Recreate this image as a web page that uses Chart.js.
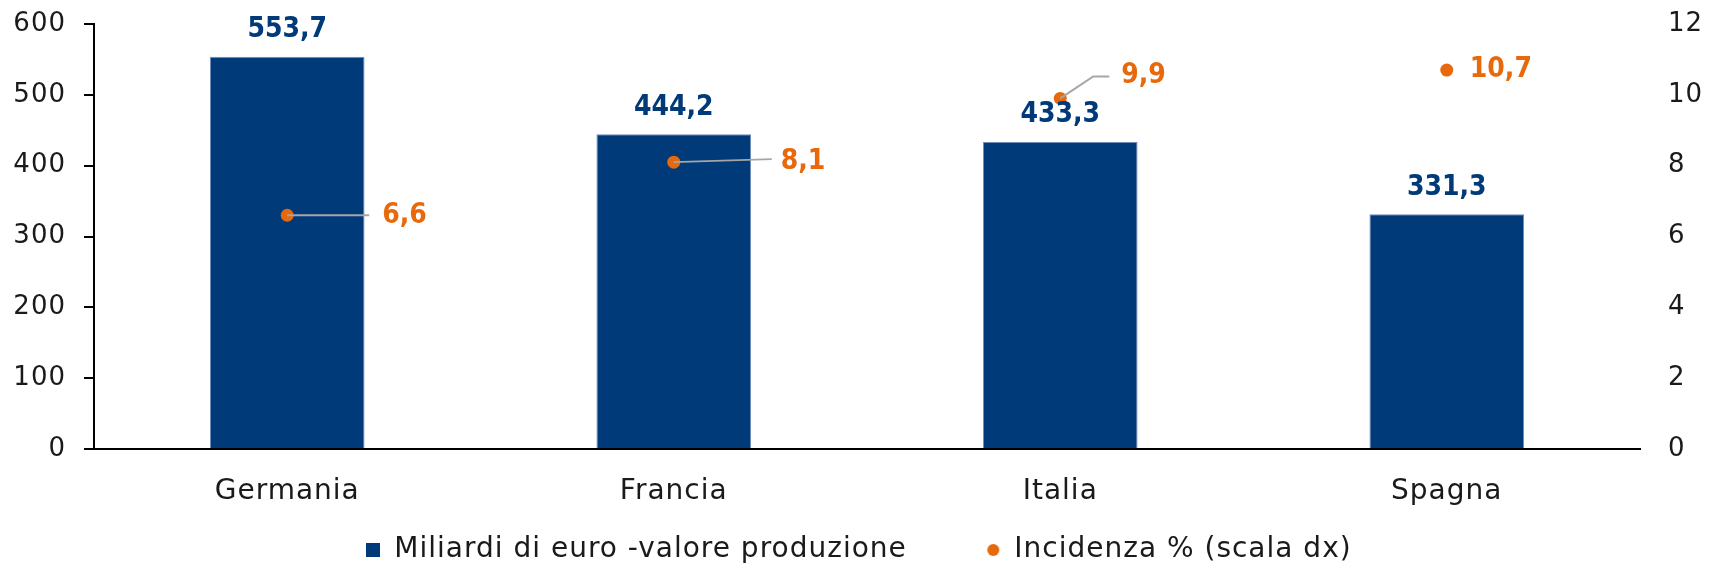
<!DOCTYPE html>
<html>
<head>
<meta charset="utf-8">
<script src="https://cdn.jsdelivr.net/npm/chart.js@4.4.0/dist/chart.umd.min.js"></script>
<style>
html, body { margin: 0; padding: 0; background: #fff; }
</style>
</head>
<body>
<canvas id="myChart1" width="1718" height="574"></canvas>
<script>
//------------------ dati ------------------//
const PAESI = ['Germania', 'Francia', 'Italia', 'Spagna']
const VALORE_PRODUZIONE = [553.7, 444.2, 433.3, 331.3]   // miliardi di euro
const INCIDENZA = [6.6, 8.1, 9.9, 10.7]                  // % (scala dx)
const LABEL_BARRE = 'Miliardi di euro -valore produzione'
const LABEL_PUNTI = 'Incidenza % (scala dx)'
//------------------------------------------//

const BLU = '#003A78'
const ARANCIO = '#E8690C'
const GRIGIO = '#A6A6A6'
const FONT = "'DejaVu Sans', sans-serif"
const FONT_BOLD = "bold 28px 'DejaVu Sans Condensed', 'DejaVu Sans', sans-serif"
const SPAZIATURA = '1px'   // il font originale e' piu' largo

// posizione etichette dei punti (offset dal punto) + linee guida
const OFFSET_PUNTI = [
    {dx: 95, dy: 0, leader: [[82, 0]]},
    {dx: 107, dy: 0, leader: [[98, -3]]},
    {dx: 61, dy: -23, leader: [[33, -22], [49, -22]]},
    {dx: 23, dy: 0, leader: null},
]

function fmt(v){
    return v.toFixed(1).replace('.', ',')
}

// simboli legenda
function makeSymbol(kind, color){
    const c = document.createElement('canvas')
    c.width = 14; c.height = 14
    const g = c.getContext('2d')
    g.fillStyle = color
    if (kind == 'rect'){
        g.fillRect(0, 0, 14, 14)
    }
    else{
        g.beginPath()
        g.arc(7, 7, 6, 0, Math.PI * 2)
        g.fill()
    }
    return c
}
const SYM_BAR = makeSymbol('rect', BLU)
const SYM_DOT = makeSymbol('circle', ARANCIO)

/*--------------------------------------------------------------------
spaziatura lettere per i testi del grafico
--------------------------------------------------------------------*/
const spaziatura = {
    id: 'spaziatura',
    beforeLayout(chart){ chart.ctx.letterSpacing = SPAZIATURA },
    beforeDraw(chart){ chart.ctx.letterSpacing = SPAZIATURA },
}

/*--------------------------------------------------------------------
etichette dei valori
--------------------------------------------------------------------*/
const etichette = {
    id: 'etichette',
    afterDatasetsDraw(chart){
        const ctx = chart.ctx
        ctx.save()
        ctx.letterSpacing = '0px'
        // barre
        const barMeta = chart.getDatasetMeta(0)
        ctx.font = FONT_BOLD
        ctx.fillStyle = BLU
        ctx.textAlign = 'center'
        ctx.textBaseline = 'middle'
        barMeta.data.forEach((bar, i) => {
            ctx.fillText(fmt(VALORE_PRODUZIONE[i]), bar.x, bar.y - 27)
        })
        // punti
        const dotMeta = chart.getDatasetMeta(1)
        dotMeta.data.forEach((pt, i) => {
            const o = OFFSET_PUNTI[i]
            if (o.leader){
                ctx.strokeStyle = GRIGIO
                ctx.lineWidth = 2
                ctx.beginPath()
                ctx.moveTo(pt.x, pt.y)
                o.leader.forEach(p => ctx.lineTo(pt.x + p[0], pt.y + p[1]))
                ctx.stroke()
            }
            ctx.fillStyle = ARANCIO
            ctx.textAlign = 'left'
            ctx.fillText(fmt(INCIDENZA[i]), pt.x + o.dx, pt.y + o.dy)
        })
        ctx.restore()
    }
}

function noPadding(scale){
    scale.paddingTop = 0
    scale.paddingBottom = 0
}

const ctx = document.getElementById('myChart1')
window.myChart = new Chart(ctx, {
    type: 'bar',
    data: {
        labels: PAESI,
        datasets: [
            {
                label: LABEL_BARRE,
                data: VALORE_PRODUZIONE,
                backgroundColor: BLU,
                borderColor: '#6f8fb8',
                borderWidth: 1,
                yAxisID: 'y',
                categoryPercentage: 1.0,
                barPercentage: 0.4,
                order: 1,
            },
            {
                type: 'line',
                label: LABEL_PUNTI,
                data: INCIDENZA,
                showLine: false,
                pointRadius: 6.5,
                pointHoverRadius: 6.5,
                pointBackgroundColor: ARANCIO,
                pointBorderColor: ARANCIO,
                pointBorderWidth: 0,
                backgroundColor: ARANCIO,
                borderColor: ARANCIO,
                yAxisID: 'y1',
                order: 0,
            },
        ],
    },
    options: {
        responsive: false,
        animation: false,
        devicePixelRatio: 1,
        layout: {padding: {top: 24, left: 0, right: 0, bottom: 0}},
        scales: {
            x: {
                offset: true,
                grid: {display: false},
                border: {display: true, color: '#000', width: 2},
                ticks: {color: '#1a1a1a', font: {family: FONT, size: 28}, padding: 18},
                afterFit(scale){ scale.height = 57 },
            },
            y: {
                position: 'left',
                min: 0, max: 600,
                ticks: {stepSize: 100, color: '#1a1a1a', font: {family: FONT, size: 26}, padding: 18},
                grid: {display: true, drawOnChartArea: false, drawTicks: true, tickLength: 10, color: '#000', lineWidth: 2},
                border: {display: true, color: '#000', width: 2},
                afterFit(scale){ scale.width = 94; noPadding(scale) },
            },
            y1: {
                position: 'right',
                min: 0, max: 12,
                ticks: {stepSize: 2, color: '#1a1a1a', font: {family: FONT, size: 26}, padding: 28},
                grid: {display: false, drawTicks: false},
                border: {display: false},
                afterFit(scale){ scale.width = 78; noPadding(scale) },
            },
        },
        plugins: {
            tooltip: {enabled: false},
            legend: {
                position: 'bottom',
                labels: {
                    usePointStyle: true,
                    boxWidth: 14,
                    boxHeight: 14,
                    padding: 30,
                    color: '#1a1a1a',
                    font: {family: FONT, size: 28},
                    sort: (a, b) => a.datasetIndex - b.datasetIndex,
                    generateLabels(chart){
                        const items = Chart.defaults.plugins.legend.labels.generateLabels(chart)
                        items.forEach(it => {
                            it.pointStyle = it.datasetIndex == 0 ? SYM_BAR : SYM_DOT
                            // spazio tra le due voci
                            if (it.datasetIndex == 0) it.text += '\u00a0\u00a0\u00a0\u00a0\u00a0'
                        })
                        return items
                    },
                },
            },
        },
    },
    plugins: [spaziatura, etichette],
})
</script>
</body>
</html>
